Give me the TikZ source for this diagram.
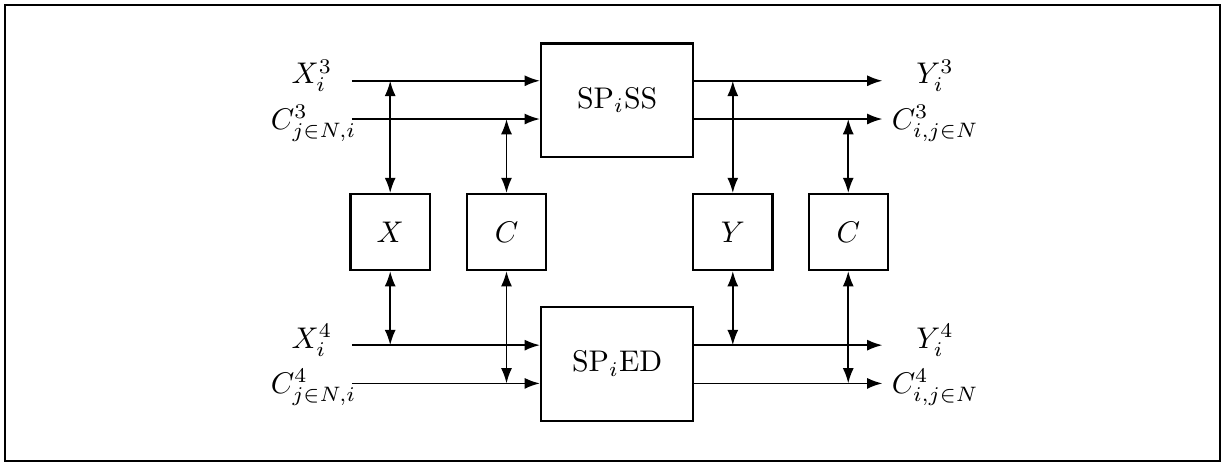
\documentclass[tikz,border=0pt]{standalone}
\usepackage{amsmath,amssymb}
\usetikzlibrary{arrows.meta,positioning,calc}

\begin{document}
\begin{tikzpicture}[>={Latex[length=1.8mm,width=1.3mm]},node distance=0.4cm,semithick]
\tikzstyle{blk}=[draw,thick,minimum width=1.79cm,minimum height=1.34cm,inner sep=0pt]
\tikzstyle{mem}=[draw,thick,minimum width=0.93cm,minimum height=0.89cm,inner sep=0pt]
\tikzstyle{lbl}=[inner sep=0pt]
\useasboundingbox (0,0) rectangle (14.41,-5.48);
\draw (0.06,-0.06) rectangle (14.35,-5.42);
% processing blocks
\node[blk] (ss) at (7.26,-1.18) {$\mathrm{SP}_i\mathrm{SS}$};
\node[blk] (ed) at (7.26,-4.28) {$\mathrm{SP}_i\mathrm{ED}$};
% stores
\node[mem] (mx) at (4.59,-2.73) {$X$};
\node[mem,right=0.41cm of mx] (mc) {$C$};
\node[mem] (my) at (8.62,-2.73) {$Y$};
\node[mem,right=0.40cm of my] (mcc) {$C$};
% line ends
\coordinate (x3) at (4.14,-0.95);\coordinate (c3) at (4.14,-1.40);
\coordinate (x4) at (4.14,-4.06);\coordinate (c4) at (4.14,-4.51);
\coordinate (y3) at (10.38,-0.95);\coordinate (o3) at (10.38,-1.40);
\coordinate (y4) at (10.38,-4.06);\coordinate (o4) at (10.38,-4.51);
% labels
\node[lbl] (lx3) at (3.67,-0.89) {$X_i^3$};
\node[lbl] (lc3) at (3.69,-1.45) {$C^3_{j\in N,i}$};
\node[lbl] (lx4) at (3.67,-4.00) {$X_i^4$};
\node[lbl] (lc4) at (3.69,-4.56) {$C^4_{j\in N,i}$};
\node[lbl] (ly3) at (11.0,-0.89) {$Y_i^3$};
\node[lbl] (lo3) at (11.0,-1.45) {$C^3_{i,j\in N}$};
\node[lbl] (ly4) at (11.0,-4.00) {$Y_i^4$};
\node[lbl] (lo4) at (11.0,-4.56) {$C^4_{i,j\in N}$};
% signals
\draw[->] (x3)--(x3-|ss.west);\draw[->] (c3)--(c3-|ss.west);
\draw[->] (x4)--(x4-|ed.west);\draw[->] (c4)--(c4-|ed.west);
\draw[->] (ss.east|-y3)--(y3);\draw[->] (ss.east|-o3)--(o3);
\draw[->] (ed.east|-y4)--(y4);\draw[->] (ed.east|-o4)--(o4);
% store access
\draw[<->] (mx.north)--(mx.north|-x3);\draw[<->] (mx.south)--(mx.south|-x4);
\draw[<->] (mc.north)--(mc.north|-c3);\draw[<->] (mc.south)--(mc.south|-c4);
\draw[<->] (my.north)--(my.north|-y3);\draw[<->] (my.south)--(my.south|-y4);
\draw[<->] (mcc.north)--(mcc.north|-o3);\draw[<->] (mcc.south)--(mcc.south|-o4);
\end{tikzpicture}
\end{document}
